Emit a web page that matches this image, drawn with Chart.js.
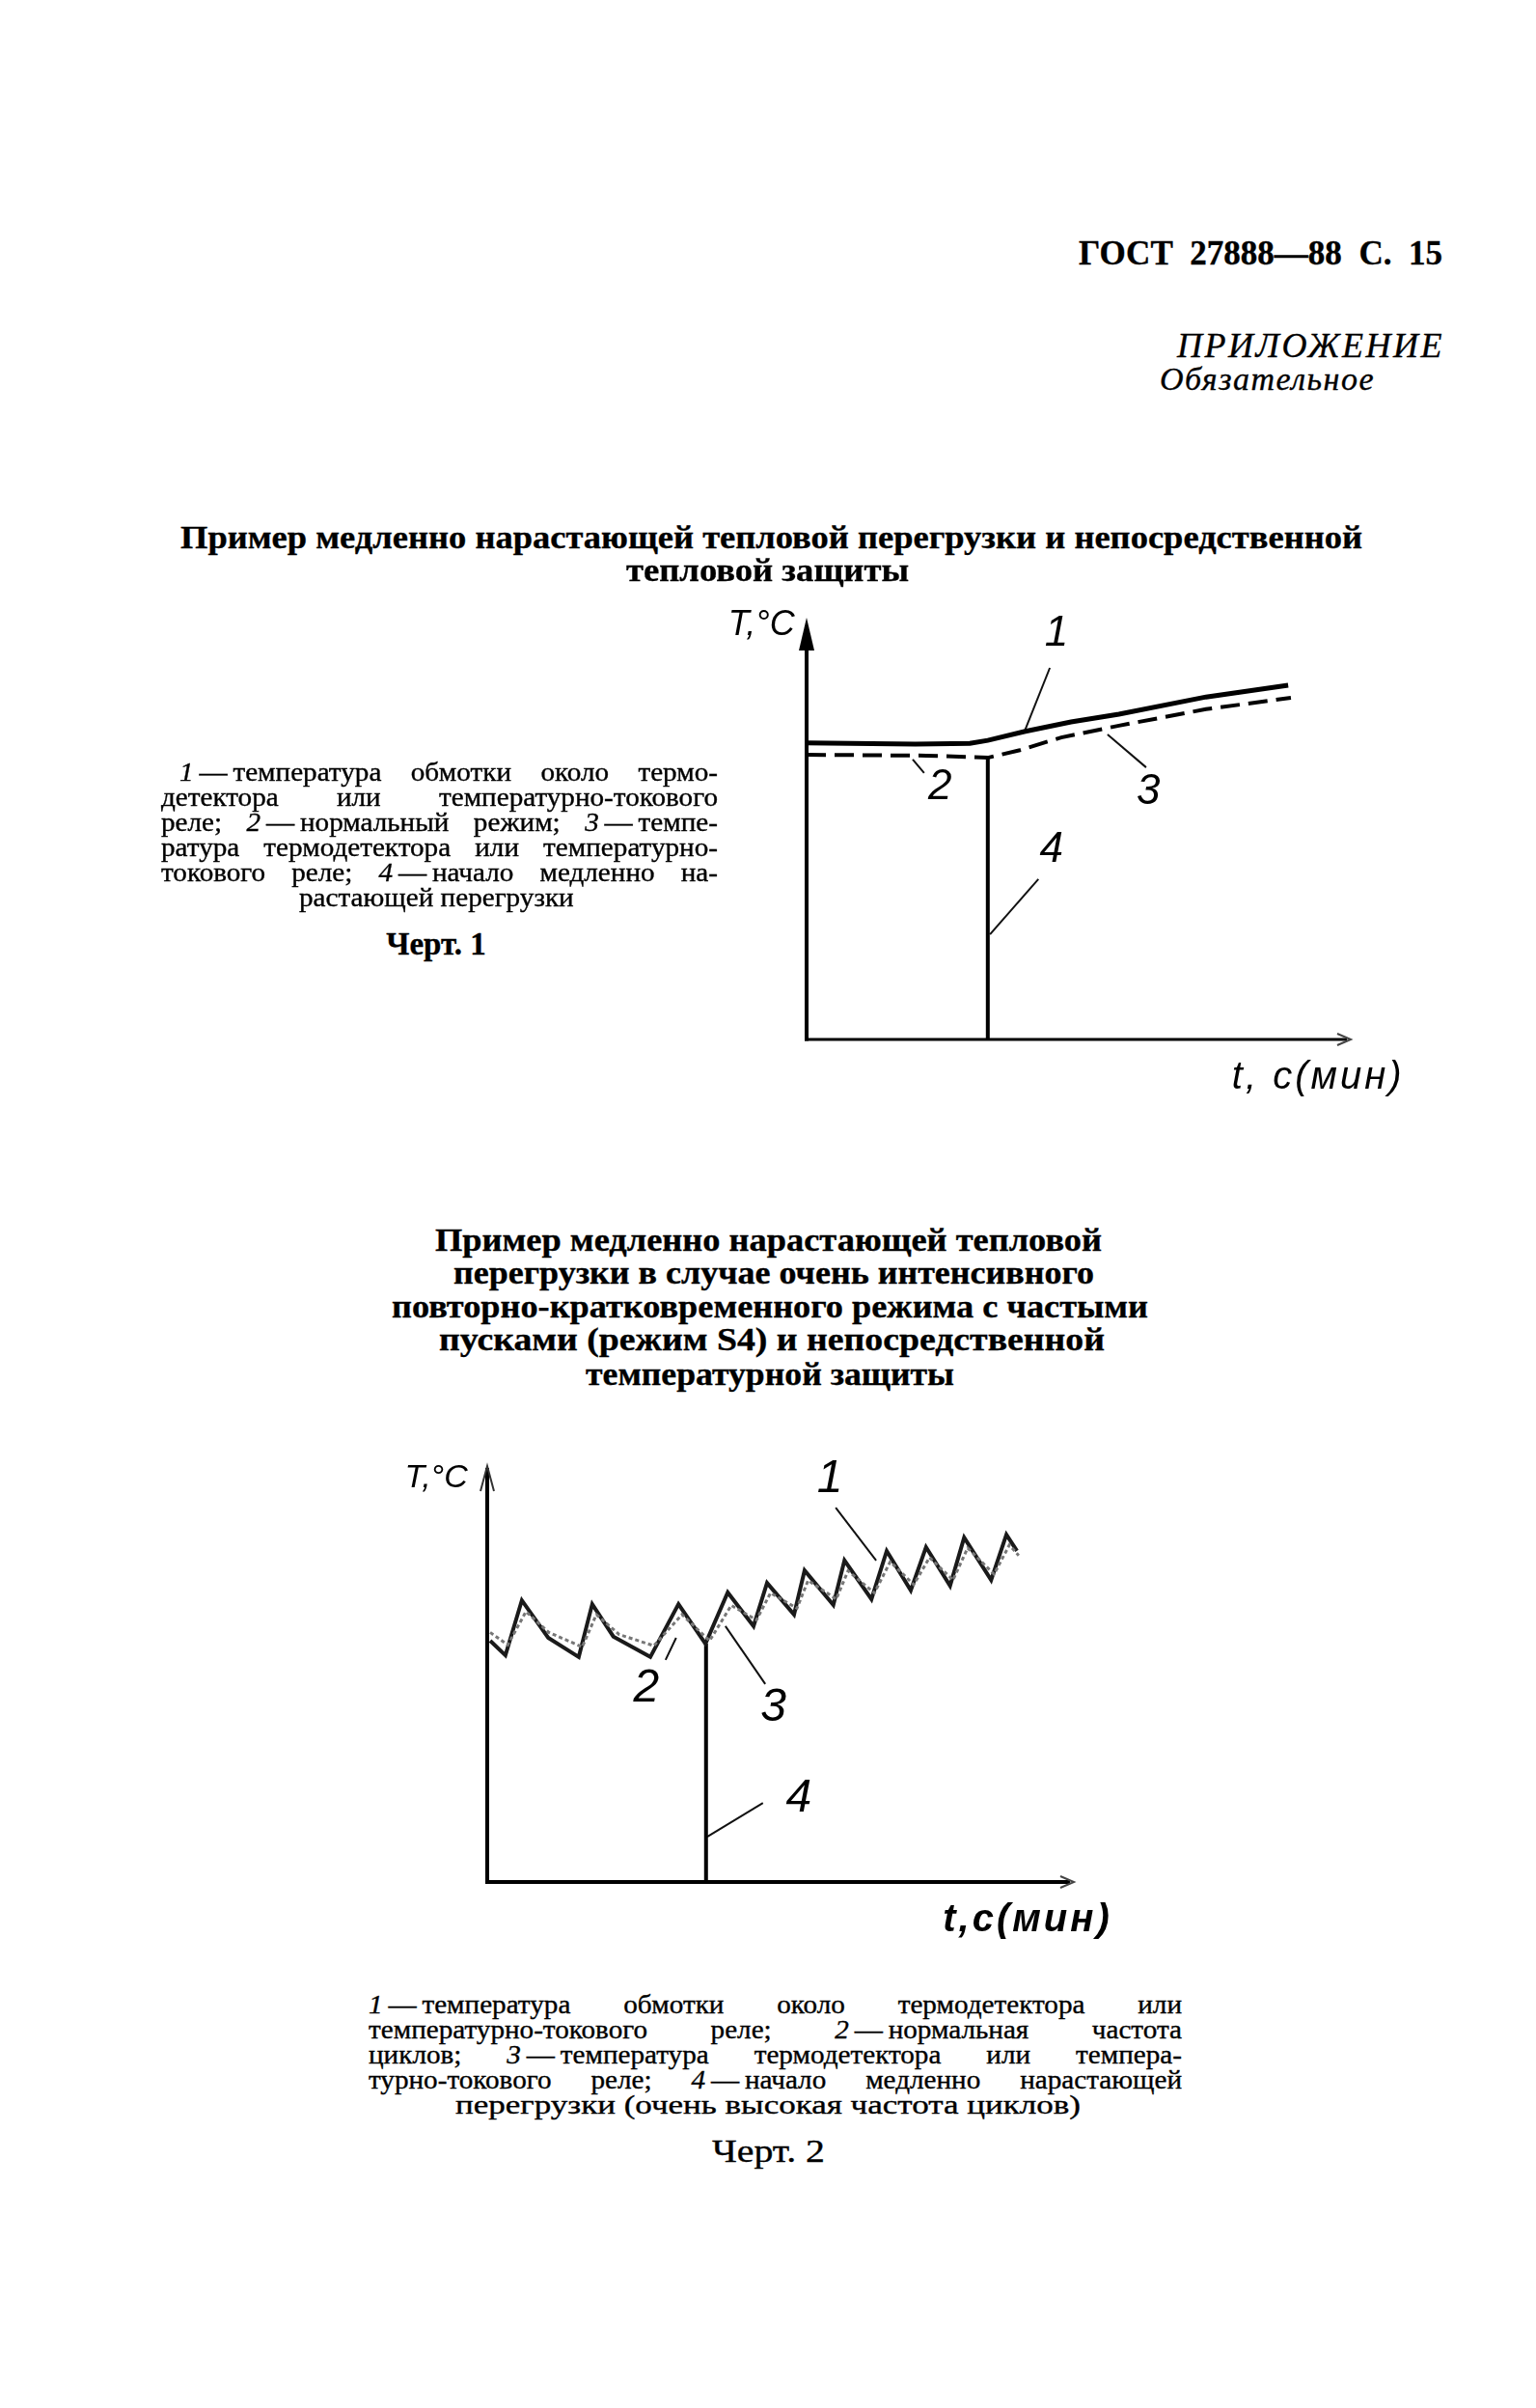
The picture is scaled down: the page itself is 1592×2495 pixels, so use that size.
<!DOCTYPE html>
<html><head><meta charset="utf-8">
<script src="https://cdn.jsdelivr.net/npm/chart.js@4.4.1/dist/chart.umd.min.js"></script>
<style>
html,body{margin:0;padding:0;background:#fff;}
body{width:1592px;height:2495px;position:relative;overflow:hidden;font-family:"Liberation Serif","DejaVu Serif",serif;color:#000;}
.t{position:absolute;white-space:nowrap;line-height:1;transform-origin:0 0;-webkit-text-stroke:0.35px #000;}
canvas{position:absolute;}
</style></head><body>
<canvas id="c1" width="800" height="560" style="left:700px;top:600px;width:800px;height:560px"></canvas>
<canvas id="c2" width="820" height="560" style="left:380px;top:1480px;width:820px;height:560px"></canvas>
<script>
// ---------- Chart 1 data (time / temperature, relative units) ----------
const c1WindingTime = [0, 20, 30, 33.3, 40, 48.6, 57.4, 73.4, 88.5];
const c1Winding     = [70.3, 70.0, 70.2, 70.9, 73.0, 75.3, 77.1, 81.2, 84.0];
const c1SensorTime  = [0, 22, 33.3, 39.2, 46.8, 57.4, 73.4, 89.0];
const c1Sensor      = [67.5, 67.3, 66.8, 68.6, 71.6, 74.4, 78.3, 81.0];
const c1OnsetTime   = [33.3, 33.3];
const c1Onset       = [0, 66.8];
const c1Labels      = ['1', '2', '3', '4'];
const c1LeaderFromX = [44.7, 19.5, 55.3, 42.6];
const c1LeaderFromY = [88.1, 66.4, 72.3, 38.0];
const c1LeaderToX   = [40.1, 21.6, 62.4, 33.7];
const c1LeaderToY   = [73.2, 63.2, 64.5, 24.9];
const c1LabelX      = [45.9, 24.5, 62.8, 45.0];
const c1LabelY      = [96.1, 59.7, 58.6, 44.9];

// ---------- Chart 2 data ----------
const c2WindingTime = [0.5, 3.1, 5.9, 10.4, 15.6, 17.9, 21.5, 27.8, 32.6, 37.2, 41.0, 45.4, 47.7, 52.3, 54.1, 59.0, 60.9, 65.5, 68.1, 72.2, 74.8, 78.9, 81.3, 85.9, 88.5, 90.3];
const c2Winding     = [58.0, 54.5, 67.7, 58.7, 54.1, 66.8, 59.0, 54.1, 66.8, 57.3, 69.6, 61.5, 71.9, 64.3, 74.9, 66.6, 77.3, 68.0, 79.6, 70.1, 80.5, 71.2, 82.8, 72.6, 83.5, 79.6];
const c2SensorTime  = [0.5, 3.5, 6.6, 10.5, 16.2, 18.6, 22.5, 28.4, 33.2, 37.9, 41.6, 45.9, 48.3, 52.8, 54.7, 59.5, 61.5, 66.0, 68.7, 72.7, 75.4, 79.4, 81.9, 86.4, 89.0, 90.6];
const c2Sensor      = [60.0, 57.0, 65.0, 60.0, 56.5, 64.3, 59.5, 56.8, 64.3, 58.0, 66.5, 63.0, 69.5, 65.8, 72.5, 68.0, 74.8, 69.5, 77.0, 71.5, 78.0, 72.6, 80.3, 74.0, 81.0, 78.5];
const c2OnsetTime   = [37.3, 37.3];
const c2Onset       = [0, 57.3];
const c2Labels      = ['1', '2', '3', '4'];
const c2LeaderFromX = [59.4, 32.2, 40.6, 47.0];
const c2LeaderFromY = [90.0, 58.7, 61.5, 19.0];
const c2LeaderToX   = [66.3, 30.4, 47.4, 37.5];
const c2LeaderToY   = [77.3, 53.4, 47.6, 10.9];
const c2LabelX      = [58.4, 27.1, 48.8, 53.1];
const c2LabelY      = [96.8, 46.4, 41.8, 20.0];

const yAxisTitle = 'T,°C';
const xAxisTitle1 = 't, c(мин)';
const xAxisTitle2 = 't,c(мин)';

// ---------- page text ----------
function place(html, x, base, w, size, style, mode, k) {
  const d = document.createElement('div');
  d.className = 't';
  d.innerHTML = html;
  d.style.font = style + ' ' + size + 'px "Liberation Serif","DejaVu Serif",serif';
  d.style.left = x + 'px';
  d.style.top = (base - 0.8375 * size) + 'px';
  document.body.appendChild(d);
  const nat = d.getBoundingClientRect().width;
  if (mode === 'scale') {
    d.style.transform = 'scaleX(' + (w / nat) + ')';
  } else if (mode === 'space') {
    const n = d.textContent.length;
    d.style.letterSpacing = ((w - nat) / n) + 'px';
  } else if (mode === 'justify') {
    const s = Math.min(k || 1.08, w * 0.97 / nat);
    d.style.whiteSpace = 'normal';
    d.style.width = (w / s) + 'px';
    d.style.textAlign = 'justify';
    d.style.textAlignLast = 'justify';
    d.style.transform = 'scaleX(' + s + ')';
  } else if (mode === 'center') {
    const s = k || 1.08;
    d.style.left = (x - nat * s / 2) + 'px';
    d.style.transform = 'scaleX(' + s + ')';
  }
  return d;
}
const D = '\u2009—\u2009';

place('ГОСТ&nbsp;&nbsp;27888—88&nbsp;&nbsp;С.&nbsp;&nbsp;15', 1118, 272, 377, 35, 'bold', 'scale');
place('ПРИЛОЖЕНИЕ', 1220, 367, 277, 36, 'italic', 'space');
place('Обязательное', 1202, 402, 223, 34, 'italic', 'space');

place('Пример медленно нарастающей тепловой перегрузки и непосредственной', 187, 566, 1225, 34, 'bold', 'scale');
place('тепловой защиты', 649, 600, 293, 34, 'bold', 'scale');

place('<i>1</i>' + D + 'температура обмотки около термо-', 186, 808, 558, 27, '', 'justify');
place('детектора или температурно-токового', 167, 834, 577, 27, '', 'justify');
place('реле; <i>2</i>' + D + 'нормальный режим; <i>3</i>' + D + 'темпе-', 167, 860, 577, 27, '', 'justify');
place('ратура термодетектора или температурно-', 167, 886, 577, 27, '', 'justify');
place('токового реле; <i>4</i>' + D + 'начало медленно на-', 167, 912, 577, 27, '', 'justify');
place('растающей перегрузки', 452, 938, 0, 27, '', 'center', 1.08);
place('Черт. 1', 452, 988, 0, 33, 'bold', 'center', 1.0);

place('Пример медленно нарастающей тепловой', 451, 1294, 691, 34, 'bold', 'scale');
place('перегрузки в случае очень интенсивного', 470, 1328, 664, 34, 'bold', 'scale');
place('повторно-кратковременного режима с частыми', 406, 1363, 784, 34, 'bold', 'scale');
place('пусками (режим S4) и непосредственной', 455, 1397, 690, 34, 'bold', 'scale');
place('температурной защиты', 607, 1433, 382, 34, 'bold', 'scale');

place('<i>1</i>' + D + 'температура обмотки около термодетектора или', 382, 2085, 843, 27, '', 'justify');
place('температурно-токового реле; <i>2</i>' + D + 'нормальная частота', 382, 2111, 843, 27, '', 'justify');
place('циклов; <i>3</i>' + D + 'температура термодетектора или темпера-', 382, 2137, 843, 27, '', 'justify');
place('турно-токового реле; <i>4</i>' + D + 'начало медленно нарастающей', 382, 2163, 843, 27, '', 'justify');
place('перегрузки (очень высокая частота циклов)', 472, 2189, 648, 27, '', 'scale');
place('Черт. 2', 738, 2239, 117, 33, '', 'scale');

// ---------- charts ----------
function pts(xs, ys) { return xs.map((x, i) => ({x: x, y: ys[i]})); }
function ds(xs, ys, o) {
  return Object.assign({data: pts(xs, ys), pointRadius: 0, tension: 0, fill: false,
    borderColor: '#000', borderWidth: 4, borderJoinStyle: 'miter', showLine: true}, o);
}
function leaders(fx, fy, tx, ty, w) {
  return fx.map((x, i) => ds([x, tx[i]], [fy[i], ty[i]], {borderWidth: w, borderColor: '#111'}));
}

const decor = {
  id: 'decor',
  beforeDatasetsDraw(chart, args, o) {
    const ctx = chart.ctx, xs = chart.scales.x, ys = chart.scales.y;
    const x0 = xs.getPixelForValue(0), x1 = xs.getPixelForValue(100);
    const y0 = ys.getPixelForValue(0), y1 = ys.getPixelForValue(100);
    ctx.save();
    ctx.strokeStyle = '#000'; ctx.fillStyle = '#000';
    ctx.lineWidth = o.yWidth;
    ctx.beginPath(); ctx.moveTo(x0, y0 + o.xWidth / 2);
    ctx.lineTo(x0, y1 + (o.yArrow === 'filled' ? 20 : 2)); ctx.stroke();
    if (o.yArrow === 'filled') {
      ctx.beginPath(); ctx.moveTo(x0, y1); ctx.lineTo(x0 - 8, y1 + 34); ctx.lineTo(x0 + 8, y1 + 34); ctx.closePath(); ctx.fill();
    } else {
      ctx.lineWidth = 2; ctx.strokeStyle = '#333';
      ctx.beginPath(); ctx.moveTo(x0 - 7, y1 + 26); ctx.lineTo(x0, y1); ctx.lineTo(x0 + 7, y1 + 26); ctx.stroke();
      ctx.strokeStyle = '#000';
    }
    ctx.lineWidth = o.xWidth;
    ctx.beginPath(); ctx.moveTo(x0 - o.yWidth / 2, y0); ctx.lineTo(x1 - 4, y0); ctx.stroke();
    ctx.lineWidth = 2; ctx.strokeStyle = '#444';
    ctx.beginPath(); ctx.moveTo(x1 - 14, y0 - 6); ctx.lineTo(x1, y0); ctx.lineTo(x1 - 14, y0 + 6); ctx.stroke();
    ctx.restore();
  },
  afterDatasetsDraw(chart, args, o) {
    const ctx = chart.ctx, xs = chart.scales.x, ys = chart.scales.y;
    ctx.save();
    ctx.fillStyle = '#000'; ctx.textAlign = 'center'; ctx.textBaseline = 'middle';
    o.labels.forEach(l => {
      ctx.font = l.font;
      if ('letterSpacing' in ctx) ctx.letterSpacing = (l.spacing || 0) + 'px';
      ctx.fillText(l.text, xs.getPixelForValue(l.x), ys.getPixelForValue(l.y));
    });
    ctx.restore();
  }
};

const hand = 'italic 44px "Liberation Sans", "DejaVu Sans", sans-serif';
const hand2 = 'italic 48px "Liberation Sans", "DejaVu Sans", sans-serif';

function baseOptions(padding, decorOpts) {
  return {
    responsive: false, animation: false, devicePixelRatio: 1,
    layout: {padding: padding},
    scales: {
      x: {type: 'linear', min: 0, max: 100, display: false},
      y: {type: 'linear', min: 0, max: 100, display: false}
    },
    plugins: {legend: {display: false}, tooltip: {enabled: false}, decor: decorOpts}
  };
}

const c1LabelObjs = c1Labels.map((t, i) => ({text: t, x: c1LabelX[i], y: c1LabelY[i], font: hand}));
c1LabelObjs.push({text: yAxisTitle, x: -8.3, y: 98.2, font: 'italic 36px "Liberation Sans", sans-serif'});
c1LabelObjs.push({text: xAxisTitle1, x: 94, y: -9.2, font: 'italic 40px "Liberation Sans", sans-serif', spacing: 3});

new Chart(document.getElementById('c1'), {
  type: 'scatter',
  data: {datasets: [
    ds(c1SensorTime, c1Sensor, {borderWidth: 4, borderDash: [20, 9]}),
    ds(c1WindingTime, c1Winding, {borderWidth: 5}),
    ds(c1OnsetTime, c1Onset, {borderWidth: 4})
  ].concat(leaders(c1LeaderFromX, c1LeaderFromY, c1LeaderToX, c1LeaderToY, 2))},
  options: baseOptions({left: 136, top: 40, right: 100, bottom: 83},
    {yArrow: 'filled', yWidth: 4, xWidth: 3, labels: c1LabelObjs}),
  plugins: [decor]
});

const c2LabelObjs = c2Labels.map((t, i) => ({text: t, x: c2LabelX[i], y: c2LabelY[i], font: hand2}));
c2LabelObjs.push({text: yAxisTitle, x: -8.7, y: 97.0, font: 'italic 34px "Liberation Sans", sans-serif'});
c2LabelObjs.push({text: xAxisTitle2, x: 92.1, y: -9.3, font: 'italic bold 40px "Liberation Sans", sans-serif', spacing: 3});

new Chart(document.getElementById('c2'), {
  type: 'scatter',
  data: {datasets: [
    ds(c2SensorTime, c2Sensor, {borderWidth: 3, borderColor: '#777', borderDash: [4, 3]}),
    ds(c2WindingTime, c2Winding, {borderWidth: 4, borderColor: '#1a1a1a'}),
    ds(c2OnsetTime, c2Onset, {borderWidth: 4})
  ].concat(leaders(c2LeaderFromX, c2LeaderFromY, c2LeaderToX, c2LeaderToY, 2))},
  options: baseOptions({left: 125, top: 39, right: 87, bottom: 90},
    {yArrow: 'open', yWidth: 4, xWidth: 4, labels: c2LabelObjs}),
  plugins: [decor]
});
</script>
</body></html>
